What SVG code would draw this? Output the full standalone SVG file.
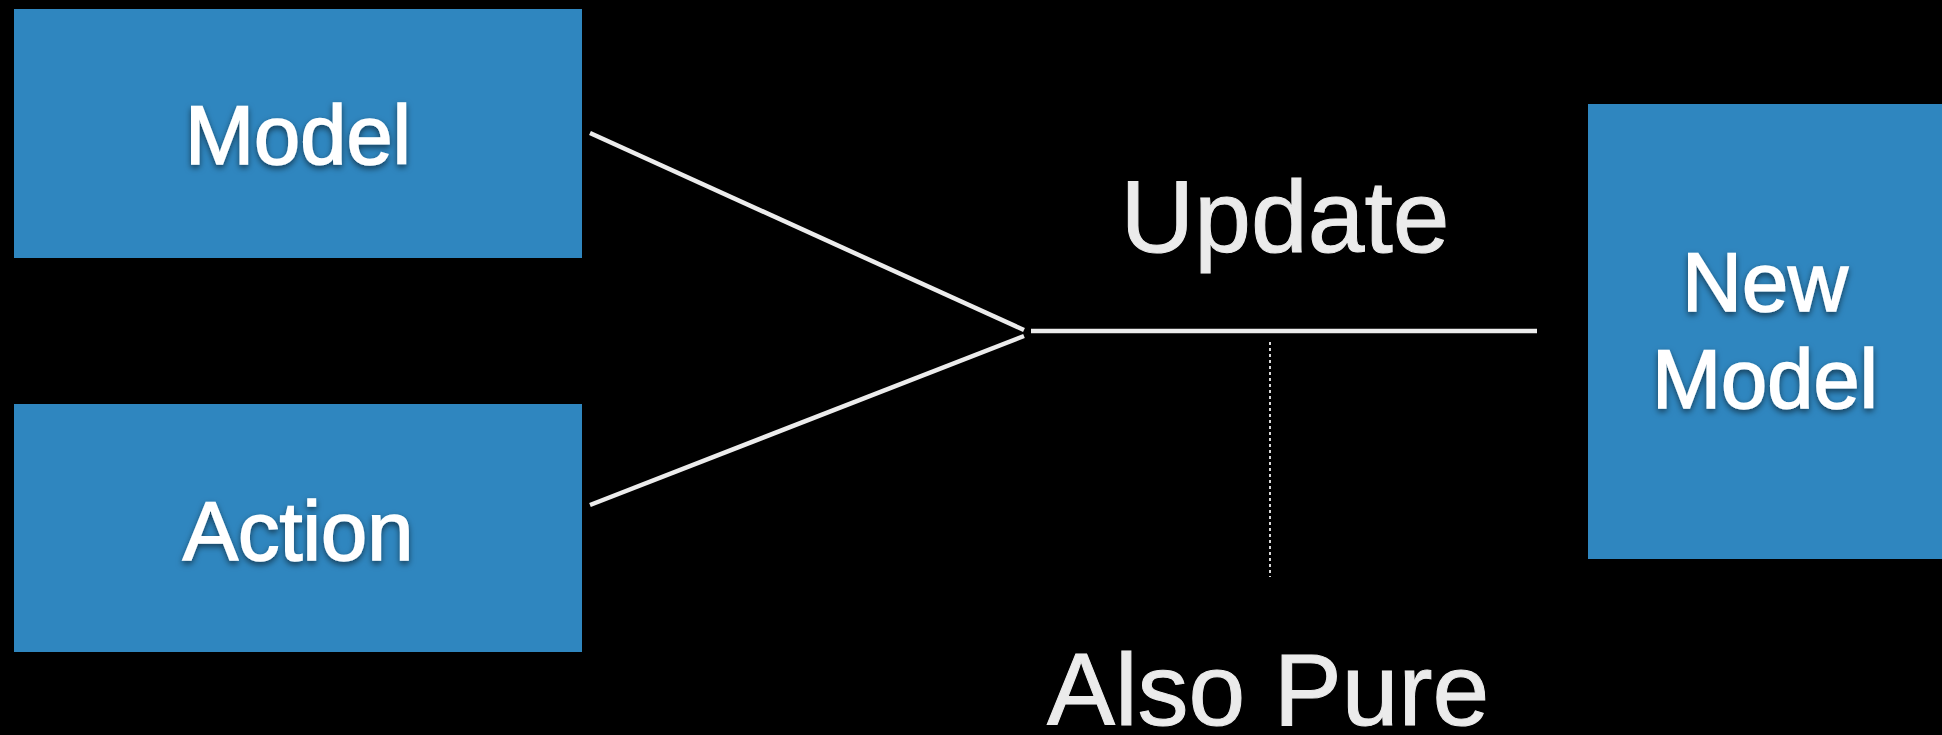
<svg xmlns="http://www.w3.org/2000/svg" width="1942" height="735" viewBox="0 0 1942 735">
  <defs>
    <filter id="shadow" x="-20%" y="-30%" width="140%" height="160%">
      <feDropShadow dx="0" dy="3" stdDeviation="3" flood-color="#000" flood-opacity="0.55"/>
    </filter>
  </defs>
  <style>
    .box { fill: #2f86bf; }
    .label { font-family: "Liberation Sans", Arial, sans-serif; font-size: 83px; fill: #ffffff; stroke: #ffffff; stroke-width: 1.6; text-anchor: middle; filter: url(#shadow); }
    .title { font-family: "Liberation Sans", Arial, sans-serif; font-size: 102px; fill: #ebebeb; stroke: #ebebeb; stroke-width: 1; text-anchor: middle; }
    .conn { stroke: #ececec; stroke-width: 4.5; fill: none; }
    .dotted { stroke: #d8d8d8; stroke-width: 2; stroke-dasharray: 3 3; fill: none; }
  </style>
  <rect x="0" y="0" width="1942" height="735" fill="#000000"/>
  <g id="model">
    <rect class="box" x="14" y="9" width="568" height="249"/>
    <text class="label" x="298" y="164">Model</text>
  </g>
  <g id="action">
    <rect class="box" x="14" y="404" width="568" height="248"/>
    <text class="label" x="298" y="560">Action</text>
  </g>
  <g id="new-model">
    <rect class="box" x="1588" y="104" width="354" height="455"/>
    <text class="label" x="1765" y="311">New</text>
    <text class="label" x="1765" y="408">Model</text>
  </g>
  <g id="update">
    <text class="title" x="1285" y="252">Update</text>
  </g>
  <g id="also-pure">
    <text class="title" x="1268" y="725">Also Pure</text>
  </g>
  <g id="connectors">
    <line class="conn" x1="590" y1="133" x2="1024" y2="330"/>
    <line class="conn" x1="590" y1="505" x2="1024" y2="336"/>
    <line class="conn" x1="1031" y1="331" x2="1537" y2="331"/>
    <line class="dotted" x1="1270" y1="342" x2="1270" y2="577"/>
  </g>
</svg>
